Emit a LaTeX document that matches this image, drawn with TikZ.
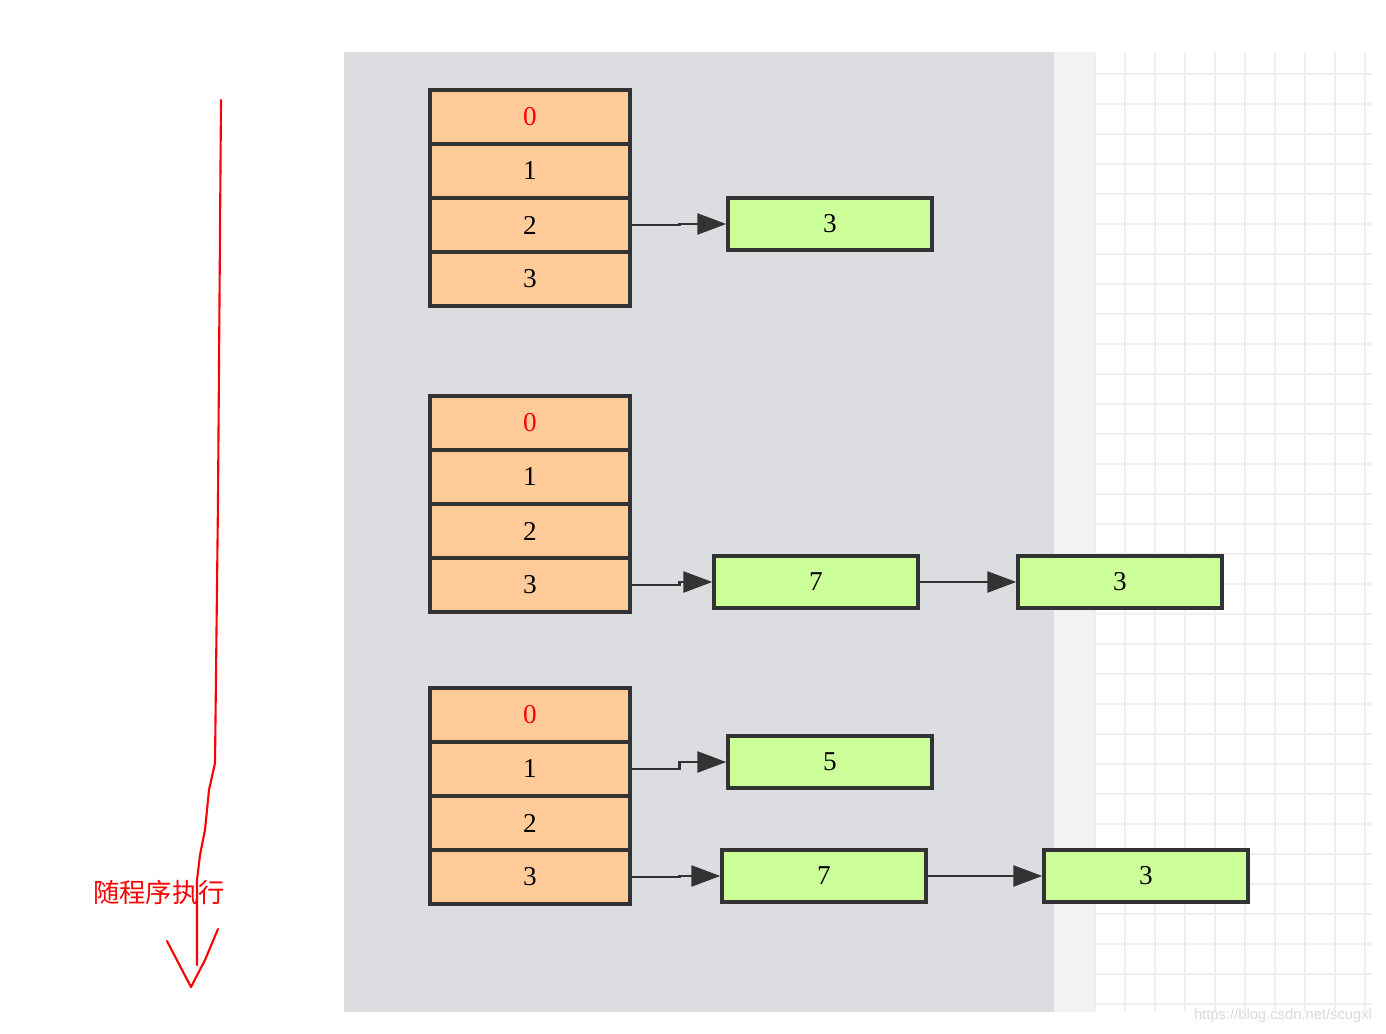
\documentclass[tikz,border=0pt]{standalone}
\usepackage{fontspec}
\setmainfont{Liberation Serif}
\newfontfamily\cjk{Noto Sans CJK SC}
\newfontfamily\wmfont{Liberation Sans}
\usetikzlibrary{arrows.meta,positioning}
\definecolor{bggray}{RGB}{220,221,225}
\definecolor{stripgray}{RGB}{242,242,242}
\definecolor{gridline}{RGB}{238,238,238}
\definecolor{cellorange}{RGB}{255,204,153}
\definecolor{itemgreen}{RGB}{204,255,153}
\definecolor{dline}{RGB}{51,51,51}
\tikzstyle{cell} = [rectangle, draw=dline, fill=cellorange, line width=2pt, minimum width=4cm, minimum height=1.08cm, inner sep=0pt, font=\fontsize{15.5}{18}\selectfont]
\tikzstyle{item} = [rectangle, draw=dline, fill=itemgreen, line width=2pt, minimum width=4.08cm, minimum height=1.04cm, inner sep=0pt, font=\fontsize{15.5}{18}\selectfont]
\tikzstyle{link} = [line width=1.5pt, color=dline, -{Triangle[length=0.58cm,width=0.42cm]}]

\begin{document}
\begin{tikzpicture}[x=0.02cm, y=-0.02cm]
    \useasboundingbox (0,0) rectangle (1386,1034);

    % Background
    \fill[bggray] (344,52) rectangle (1054,1012);
    \fill[stripgray] (1054,52) rectangle (1095,1012);
    \foreach \gx in {1095,1125,...,1365} \draw[gridline, line width=0.8pt] (\gx,52) -- (\gx,1012);
    \foreach \gy in {74,104,...,1004} \draw[gridline, line width=0.8pt] (1095,\gy) -- (1372,\gy);
    \foreach \gx in {1215,1335} \draw[gridline, line width=1.4pt] (\gx,52) -- (\gx,1012);
    \foreach \gy in {74,194,...,914} \draw[gridline, line width=1.4pt] (1095,\gy) -- (1372,\gy);

    % Step 1
    \node[cell, text=red] (a0) at (530,117) {0};
    \node[cell] (a1) at (530,171) {1};
    \node[cell] (a2) at (530,225) {2};
    \node[cell] (a3) at (530,279) {3};
    \node[item] (a2x) at (830,224) {3};
    \draw[link] (a2.east) -- ++(48,0) |- (a2x.west);

    % Step 2
    \node[cell, text=red] (b0) at (530,423) {0};
    \node[cell] (b1) at (530,477) {1};
    \node[cell] (b2) at (530,531) {2};
    \node[cell] (b3) at (530,585) {3};
    \node[item] (b3x) at (816,582) {7};
    \node[item] (b3y) at (1120,582) {3};
    \draw[link] (b3.east) -- ++(48,0) |- (b3x.west);
    \draw[link] (b3x) -- (b3y);

    % Step 3
    \node[cell, text=red] (c0) at (530,715) {0};
    \node[cell] (c1) at (530,769) {1};
    \node[cell] (c2) at (530,823) {2};
    \node[cell] (c3) at (530,877) {3};
    \node[item] (c1x) at (830,762) {5};
    \node[item] (c3x) at (824,876) {7};
    \node[item] (c3y) at (1146,876) {3};
    \draw[link] (c1.east) -- ++(48,0) |- (c1x.west);
    \draw[link] (c3.east) -- ++(48,0) |- (c3x.west);
    \draw[link] (c3x) -- (c3y);

    % Hand-drawn order arrow
    \draw[red, line width=1.2pt, line join=round, line cap=round] (221,100) -- (218,500) -- (215,763) -- (209,790) -- (205,830) -- (200,855) -- (197,880) -- (197,965);
    \draw[red, line width=1.2pt, line join=round, line cap=round] (167,941) -- (180,966) -- (191,987) -- (205,960) -- (218,929);
    \node[text=red, font=\cjk\fontsize{15}{18}\selectfont] (order) at (159,892) {随程序执行};

    \node[text=gray!30, font=\wmfont\fontsize{8.4}{10}\selectfont] (wm) at (1283,1016) {https://blog.csdn.net/scugxl};
\end{tikzpicture}
\end{document}
